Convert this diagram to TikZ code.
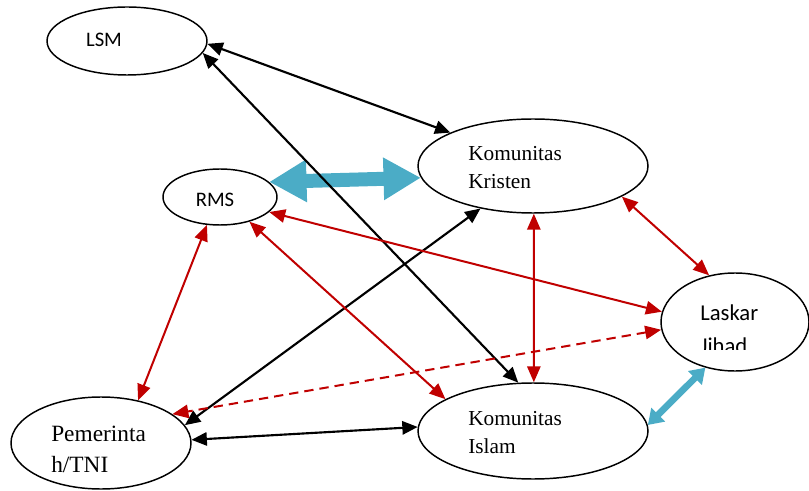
\documentclass[tikz,border=0pt]{standalone}
\usepackage{fontspec}
\setmainfont{Liberation Serif}
\newfontfamily\calfont{Carlito}
\usetikzlibrary{shapes.geometric}
\usetikzlibrary{arrows.meta}
\definecolor{linkred}{RGB}{192,0,0}
\definecolor{linkcyan}{RGB}{75,172,198}
\tikzset{
  actor/.style={ellipse, draw, line width=1.1pt, inner sep=0pt},
  sanslabel/.style={inner sep=0pt, font=\calfont\fontsize{15.5}{19}\selectfont},
  seriflabel/.style={inner sep=0pt, align=left, font=\fontsize{16}{21}\selectfont},
  blacklink/.style={line width=1.6pt, {Triangle[length=11.5pt,width=10pt]}-{Triangle[length=11.5pt,width=10pt]}},
  redlink/.style={linkred, line width=1.5pt, {Triangle[length=12pt,width=10pt]}-{Triangle[length=12pt,width=10pt]}},
  reddash/.style={redlink, dash pattern=on 7pt off 4.5pt},
  cyanbig/.style={linkcyan, line width=10.5pt, {Triangle[length=28pt,width=30pt]}-{Triangle[length=28pt,width=30pt]}},
  cyansmall/.style={linkcyan, line width=5pt, {Triangle[length=11pt,width=14pt]}-{Triangle[length=11pt,width=14pt]}}
}

\begin{document}
\begin{tikzpicture}[x=0.75pt,y=-0.75pt]
    \useasboundingbox (0,0) rectangle (809,491);

    % actors
    \node[actor, minimum width=120pt, minimum height=51pt] (lsm) at (127,41) {};
    \node[actor, minimum width=85.5pt, minimum height=42pt] (rms) at (220,197) {};
    \node[actor, minimum width=172.5pt, minimum height=70.5pt] (kristen) at (533,166) {};
    \node[actor, minimum width=172.5pt, minimum height=72pt] (islam) at (533,431) {};
    \node[actor, minimum width=111pt, minimum height=73.5pt] (laskar) at (735,322) {};
    \node[actor, minimum width=135pt, minimum height=69pt] (tni) at (101,443) {};

    % labels
    \node[sanslabel] (lsmlbl) at (104,40) {LSM};
    \node[sanslabel] (rmslbl) at (215,200) {RMS};
    \node[seriflabel, anchor=west] (kristenlbl) at (468,168) {Komunitas\\Kristen};
    \node[seriflabel, anchor=west] (islamlbl) at (468,433) {Komunitas\\Islam};
    \node[seriflabel, anchor=west, font=\fontsize{17.5}{23.25}\selectfont] (tnilbl) at (51,449) {Pemerinta\\h/TNI};
    \begin{scope}
        \clip (690,290) rectangle (790,349);
        \node[sanslabel, anchor=west, align=left, font=\calfont\fontsize{17}{24.75}\selectfont] (laskarlbl) at (700,329) {Laskar\\Jihad};
    \end{scope}

    % links
    \draw[cyanbig] (rms.17) -- (kristen.186);
    \draw[cyansmall] (islam.3) -- (laskar.237);

    \draw[blacklink] (lsm.-2) -- (kristen.158);
    \draw[blacklink] (lsm.-9) -- (islam.107);
    \draw[blacklink] (tni.12) -- (kristen.219);
    \draw[blacklink] (tni.2) -- (islam.178);

    \draw[redlink] (rms.-17) -- (laskar.172);
    \draw[redlink] (rms.-40) -- (islam.160);
    \draw[redlink] (rms.245) -- (tni.49);
    \draw[redlink] (kristen.-89) -- (islam.89);
    \draw[redlink] (kristen.-19) -- (laskar.119);
    \draw[reddash] (laskar.186) -- (tni.22);

\end{tikzpicture}
\end{document}
